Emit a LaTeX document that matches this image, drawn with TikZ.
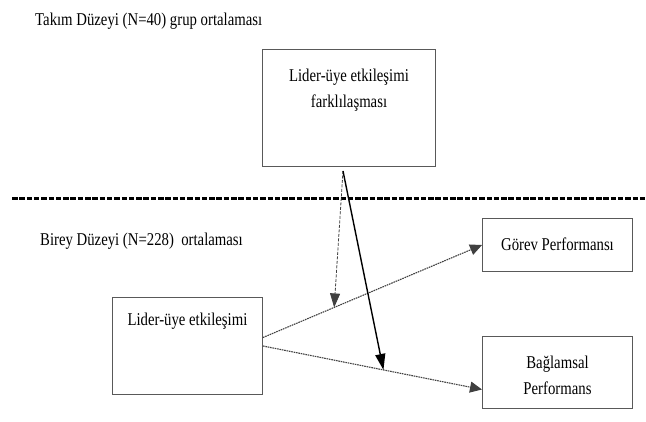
\documentclass[tikz,border=0pt]{standalone}
\usepackage{fontspec}
\setmainfont{Liberation Serif}[FakeStretch=0.82]
\usetikzlibrary{arrows.meta,positioning}

\begin{document}
\begin{tikzpicture}[x=1pt, y=-1pt,
    font=\rmfamily\fontsize{18}{26}\selectfont,
    kutu/.style={draw=black!65, line width=1pt, inner sep=0pt, minimum width=150pt, anchor=north west},
    akis/.style={draw=black!75, line width=1.1pt, dash pattern=on 1.6pt off 0.8pt, -{Triangle[length=12pt,width=11pt]}},
    kesik/.style={draw=black!75, line width=0.8pt, dash pattern=on 3pt off 1.5pt, -{Triangle[length=14pt,width=10pt]}},
    duz/.style={draw=black, line width=1.4pt, -{Triangle[length=16pt,width=10pt]}},
    ayrac/.style={draw=black, line width=3pt, dash pattern=on 5.5pt off 1.8pt}]
  \useasboundingbox (0,0) rectangle (646,421);

  % duzey basliklari
  \node[anchor=base west, inner sep=0pt] (takim) at (35,25.7) {Takım Düzeyi (N=40) grup ortalaması};
  \node[anchor=base west, inner sep=0pt] (birey) at (40,245) {Birey Düzeyi (N=228)~ ortalaması};

  % kutular
  \node[kutu, minimum width=173pt, text height=32pt, text depth=85pt] (fark) at (262,49)
    {\begin{tabular}[t]{@{}c@{}}Lider-üye etkileşimi\\farklılaşması\end{tabular}};
  \node[kutu, text height=28pt, text depth=69pt] (lider) at (112,297) {Lider-üye etkileşimi};
  \node[kutu, text height=32pt, text depth=21pt] (gorev) at (482,218) {Görev Performansı};
  \node[kutu, text height=32pt, text depth=40pt] (baglam) at (482,336)
    {\begin{tabular}[t]{@{}c@{}}Bağlamsal\\Performans\end{tabular}};

  % ayrac cizgisi
  \coordinate (solUc) at (12,198);
  \coordinate (sagUc) at (646,198);
  \draw[ayrac] (solUc) -- (sagUc);

  % oklar
  \draw[akis] ([yshift=8.5pt]lider.east) -- coordinate[pos=0.325] (m1) (gorev.west);
  \draw[akis] (lider.east) -- coordinate[pos=0.55] (m2) ([yshift=-17pt]baglam.west);
  \coordinate (F) at ([xshift=-6pt,yshift=-4pt]fark.south);
  \draw[kesik] (F) -- (m1);
  \draw[duz] (F) -- (m2);
\end{tikzpicture}
\end{document}
